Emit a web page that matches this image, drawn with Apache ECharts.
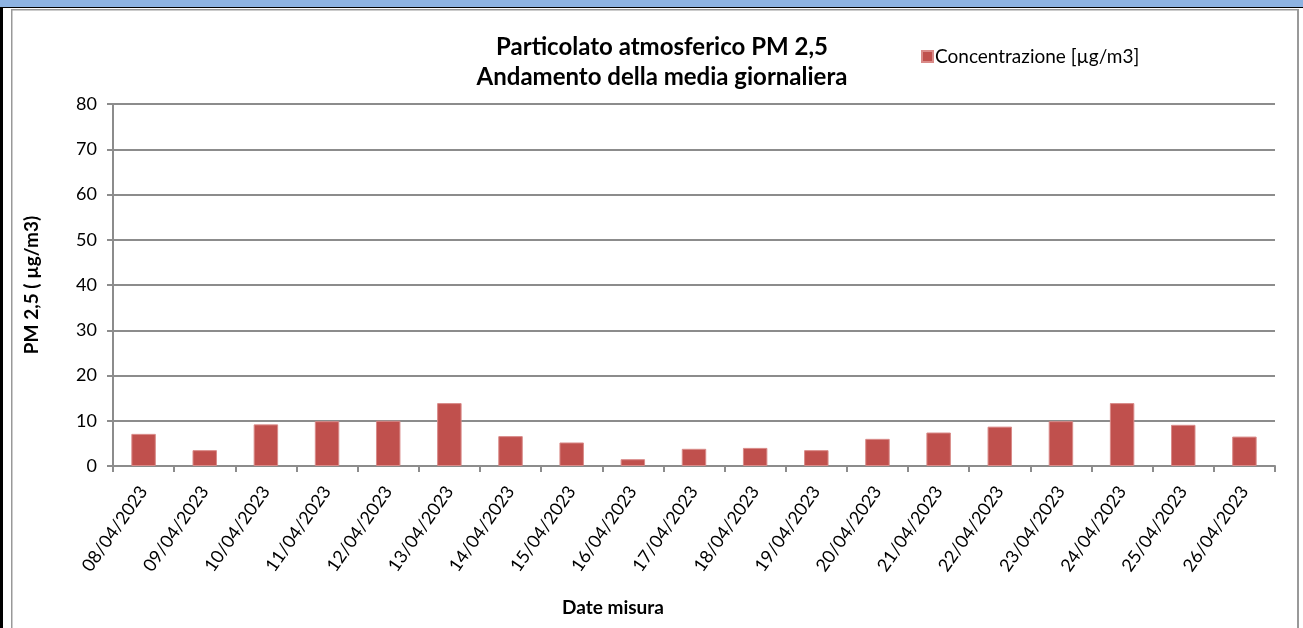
<!DOCTYPE html>
<html>
<head>
<meta charset="utf-8">
<script src="https://cdn.jsdelivr.net/npm/echarts@6/dist/echarts.min.js"></script>
<style>
  html, body { margin: 0; padding: 0; background: #fff; }
  #chart { width: 1303px; height: 628px; }
</style>
</head>
<body>
<div id="chart"></div>
<script>
const categories = [
  "08/04/2023", "09/04/2023", "10/04/2023", "11/04/2023", "12/04/2023",
  "13/04/2023", "14/04/2023", "15/04/2023", "16/04/2023", "17/04/2023",
  "18/04/2023", "19/04/2023", "20/04/2023", "21/04/2023", "22/04/2023",
  "23/04/2023", "24/04/2023", "25/04/2023", "26/04/2023"
];
const concentrazione = [7.1, 3.5, 9.2, 9.9, 10, 13.9, 6.6, 5.2, 1.5, 3.8, 4.0, 3.5, 6.0, 7.4, 8.7, 9.9, 13.9, 9.1, 6.5];
const yTicks = { min: 0, max: 80, interval: 10 };

const FONT = "Lato, 'Open Sans', sans-serif";
const GRID_GRAY = "#8c8c8c";

const chart = echarts.init(document.getElementById("chart"), null, { renderer: "canvas" });

chart.setOption({
  backgroundColor: "#fff",
  animation: false,
  title: [
    {
      text: "Particolato atmosferico PM 2,5\nAndamento della media giornaliera",
      left: 657,
      top: 27,
      textAlign: "center",
      textStyle: { fontFamily: FONT, fontSize: 24, fontWeight: "bold", color: "#000", lineHeight: 30 }
    },
    {
      text: "Date misura",
      left: 608,
      top: 593,
      textAlign: "center",
      textStyle: { fontFamily: FONT, fontSize: 19, fontWeight: "bold", color: "#000" }
    }
  ],
  legend: {
    left: 916,
    top: 42,
    itemWidth: 11,
    itemHeight: 11,
    itemGap: 2,
    icon: "rect",
    textStyle: { fontFamily: FONT, fontSize: 19, color: "#000", padding: [0, 0, 0, -3] },
    data: ["Concentrazione [µg/m3]"]
  },
  grid: { left: 113, right: 28, top: 104, bottom: 162, containLabel: false },
  xAxis: {
    type: "category",
    data: categories,
    axisLine: { lineStyle: { color: GRID_GRAY, width: 2 } },
    axisTick: { show: true, alignWithLabel: false, length: 6, lineStyle: { color: GRID_GRAY, width: 2 } },
    axisLabel: { rotate: 55, fontFamily: FONT, fontSize: 18, color: "#000", margin: 22, interval: 0 }
  },
  yAxis: {
    type: "value",
    min: yTicks.min,
    max: yTicks.max,
    interval: yTicks.interval,
    name: "PM 2,5 ( µg/m3)",
    nameLocation: "middle",
    nameGap: 72,
    nameTextStyle: { fontFamily: FONT, fontSize: 19, fontWeight: "bold", color: "#000" },
    axisLine: { show: true, lineStyle: { color: GRID_GRAY, width: 2 } },
    axisTick: { show: true, length: 6, lineStyle: { color: GRID_GRAY, width: 2 } },
    axisLabel: { fontFamily: FONT, fontSize: 18, color: "#000", margin: 16 },
    splitLine: { show: true, lineStyle: { color: GRID_GRAY, width: 2 } }
  },
  series: [
    {
      name: "Concentrazione [µg/m3]",
      type: "bar",
      data: concentrazione,
      barWidth: "40%",
      itemStyle: { color: "#C0504D", borderColor: "#d98a88", borderWidth: 1 }
    }
  ],
  graphic: [
    { type: "rect", shape: { x: 0, y: 0, width: 1303, height: 7 }, style: { fill: "#8DB3E2" } },
    { type: "rect", shape: { x: 0, y: 7, width: 1303, height: 1 }, style: { fill: "#000" } },
    { type: "rect", shape: { x: 0, y: 7, width: 3, height: 621 }, style: { fill: "#000" } },
    { type: "rect", shape: { x: 11, y: 9, width: 1288, height: 1.5 }, style: { fill: "#999" } },
    { type: "rect", shape: { x: 11, y: 9, width: 1.5, height: 619 }, style: { fill: "#999" } },
    { type: "rect", shape: { x: 1297, y: 9, width: 2, height: 619 }, style: { fill: "#999" } }
  ]
});
</script>
</body>
</html>
